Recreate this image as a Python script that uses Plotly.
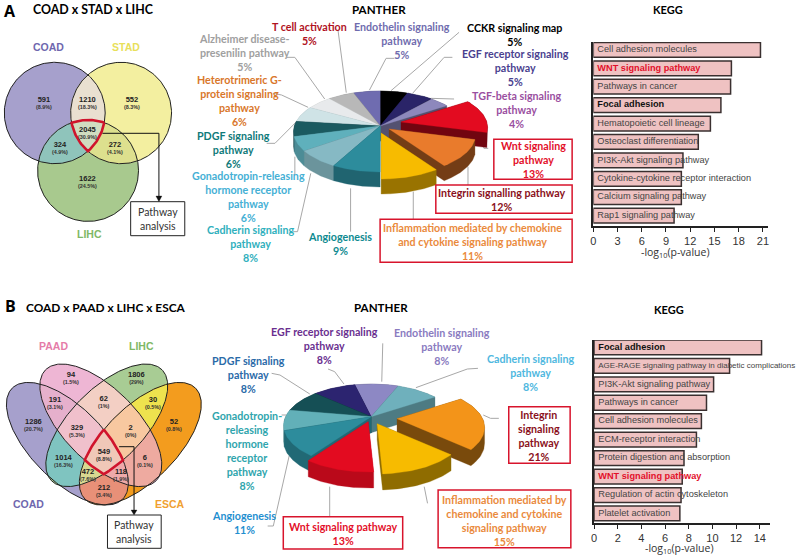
import numpy as np
import plotly.graph_objects as go

# ---------- DATA ----------
kegg_a_names = ["Cell adhesion molecules", "WNT signaling pathway", "Pathways in cancer", "Focal adhesion",
                "Hematopoietic cell lineage", "Osteoclast differentiation", "PI3K-Akt signaling pathway",
                "Cytokine-cytokine receptor interaction", "Calcium signaling pathway", "Rap1 signaling pathway"]
kegg_a_values = [20.7, 17.1, 17.0, 15.8, 14.5, 13.0, 11.1, 10.9, 10.9, 10.0]
kegg_b_names = ["Focal adhesion", "AGE-RAGE signaling pathway in diabetic complications", "PI3K-Akt signaling pathway",
                "Pathways in cancer", "Cell adhesion molecules", "ECM-receptor interaction",
                "Protein digestion and absorption", "WNT signaling pathway", "Regulation of actin cytoskeleton",
                "Platelet activation"]
kegg_b_values = [14.15, 11.45, 10.1, 9.5, 9.07, 8.65, 7.6, 7.45, 7.35, 7.25]

panther_a_names = ["CCKR", "EGF", "TGF-beta", "Wnt", "Integrin", "Inflammation", "Angiogenesis", "Cadherin",
                   "Gonadotropin", "PDGF", "Heterotrimeric", "Alzheimer", "T cell", "Endothelin"]
panther_a_values = [5, 5, 4, 13, 12, 11, 9, 8, 6, 6, 6, 5, 5, 5]
panther_a_colors = ["#000000", "#2a2468", "#8d88bc", "#e30b20", "#e97b2c", "#f7bb00", "#2d8c9c", "#86b9c4",
                    "#5fb0bc", "#1a5a60", "#cfe3e6", "#e8eaec", "#b8b8b8", "#6f6cb0"]
panther_a_wall = [0.6, 0.6, 0.6, 0.5, 0.5, 0.62, 0.72, 0.8, 0.8, 0.7, 0.8, 0.8, 0.7, 0.6]
panther_b_names = ["Cadherin", "Integrin", "Inflammation", "Wnt", "Angiogenesis", "Gonadotropin", "PDGF", "EGF", "Endothelin"]
panther_b_values = [8, 21, 15, 13, 11, 8, 8, 8, 8]
panther_b_colors = ["#6fb0bc", "#f39419", "#f7bb00", "#e30b20", "#2d8c9c", "#62b0b8", "#154f55", "#2c2470", "#8d88c4"]
panther_b_wall = [0.7, 0.5, 0.58, 0.82, 0.75, 0.75, 0.7, 0.6, 0.6]

venn_a_counts = ["591", "1210", "552", "2045", "324", "272", "1622"]
venn_a_pcts = ["(8.9%)", "(18.3%)", "(8.3%)", "(30.9%)", "(4.9%)", "(4.1%)", "(24.5%)"]
venn_b_counts = ["94", "1806", "191", "62", "30", "1286", "329", "2", "52", "1014", "549", "6", "472", "118", "212"]
venn_b_pcts = ["(1.5%)", "(29%)", "(3.1%)", "(1%)", "(0.5%)", "(20.7%)", "(5.3%)", "(0%)", "(0.8%)", "(16.3%)",
               "(8.8%)", "(0.1%)", "(7.6%)", "(1.9%)", "(3.4%)"]

# ---------- LAYOUT CONSTANTS ----------
W, H = 798, 556
fig = go.Figure()
ann, shp = [], []
HEAD = "Lato"
OV = dict(xaxis="x3", yaxis="y3")


def text(x, y, s, size=10.5, color="#000", family=HEAD, bold=False, anchor="center"):
    ann.append(dict(x=x, y=y, xref="x3", yref="y3", text=f"<b>{s}</b>" if bold else s, showarrow=False,
                    xanchor=anchor, yanchor="middle", align="center", font=dict(size=size, color=color, family=family)))


def count(x, y, c, p):
    s = f"<b><span style='font-size:7.5px;color:#222'>{c}</span><br>{p}</b>"
    ann.append(dict(x=x, y=y + 3.5, xref="x3", yref="y3", text=s, showarrow=False, xanchor="center", yanchor="middle",
                    align="center", font=dict(size=5.4, color="#333", family="Liberation Sans")))


def poly(pts, fill=None, line=None, width=1):
    pts = np.asarray(pts)
    x = list(pts[:, 0]) + [pts[0, 0]]
    y = list(pts[:, 1]) + [pts[0, 1]]
    fig.add_trace(go.Scatter(x=x, y=y, mode="lines", fill="toself" if fill else None, fillcolor=fill,
                             line=dict(color=line or fill, width=width if line else 0.3), hoverinfo="skip", **OV))


def polyline(pts, color="#a8a8a8", width=1):
    pts = np.asarray(pts)
    fig.add_trace(go.Scatter(x=pts[:, 0], y=pts[:, 1], mode="lines", line=dict(color=color, width=width),
                             hoverinfo="skip", **OV))


def box(x0, y0, x1, y1, color, width=1.5):
    shp.append(dict(type="rect", xref="x3", yref="y3", x0=x0, y0=y0, x1=x1, y1=y1, line=dict(color=color, width=width)))


def ellipse(cx, cy, a, b, deg=0, n=240):
    t = np.linspace(0, 2 * np.pi, n, endpoint=False)
    r = np.radians(deg)
    x, y = a * np.cos(t), b * np.sin(t)
    return np.column_stack([cx + x * np.cos(r) - y * np.sin(r), cy + x * np.sin(r) + y * np.cos(r)])


def clip(subject, clipper):
    area = np.sum(clipper[:, 0] * np.roll(clipper[:, 1], -1) - np.roll(clipper[:, 0], -1) * clipper[:, 1])
    sgn = 1 if area > 0 else -1
    out = list(subject)
    for i in range(len(clipper)):
        a, b = clipper[i], clipper[(i + 1) % len(clipper)]
        inside = lambda p: sgn * ((b[0] - a[0]) * (p[1] - a[1]) - (b[1] - a[1]) * (p[0] - a[0])) >= 0
        inp, out = out, []
        for j in range(len(inp)):
            p, q = inp[j], inp[(j + 1) % len(inp)]
            if inside(p) != inside(q):
                d = (q - p)
                e = b - a
                den = e[0] * d[1] - e[1] * d[0]
                s = (e[1] * (p[0] - a[0]) - e[0] * (p[1] - a[1])) / den
                if inside(p):
                    out.append(p)
                out.append(p + s * d)
            elif inside(p):
                out.append(p)
        if not out:
            return None
    return np.array(out)


def region(shapes, idx):
    pg = shapes[idx[0]]
    for i in idx[1:]:
        pg = clip(pg, shapes[i])
    return pg


def venn(shapes, paint, red_idx):
    for key in sorted(paint, key=len):
        pg = region(shapes, key)
        if pg is not None:
            poly(pg, fill=paint[key])
    for s in shapes:
        poly(s, line="#222222", width=1)
    poly(region(shapes, red_idx), line="#d0142c", width=2.6)


def shade(c, f):
    r, g, b = int(c[1:3], 16), int(c[3:5], 16), int(c[5:7], 16)
    return f"rgb({int(r * f)},{int(g * f)},{int(b * f)})"


def hull(points):
    pts = sorted(set(map(tuple, np.round(points, 4))))
    def half(seq):
        st = []
        for p in seq:
            while len(st) > 1 and (st[-1][0] - st[-2][0]) * (p[1] - st[-2][1]) - (st[-1][1] - st[-2][1]) * (p[0] - st[-2][0]) <= 0:
                st.pop()
            st.append(p)
        return st[:-1]
    return np.array(half(pts) + half(pts[::-1]))


def pie3d(values, colors, walls, cx, cy, ax, ay, rx, ry, depth, start, offsets):
    vals = np.array(values, float)
    edges = start + np.concatenate([[0], np.cumsum(vals)]) / vals.sum() * 360
    order = sorted(range(len(vals)), key=lambda i: -np.cos(np.radians((edges[i] + edges[i + 1]) / 2)))
    for i in order:
        t = np.radians(np.linspace(edges[i], edges[i + 1], 40))
        dx, dy = offsets.get(i, (0, 0))
        arc = np.column_stack([cx + rx * np.sin(t) + dx, cy - ry * np.cos(t) + dy])
        apex = np.array([ax + dx, ay + dy])
        pts = np.vstack([apex, arc])
        poly(hull(np.vstack([pts, pts + [0, depth]])), fill=shade(colors[i], walls[i]))
        poly(pts, fill=colors[i])


# ---------- VENN A ----------
va = [ellipse(52, 113, 50.7, 50.7), ellipse(118.7, 113, 50.7, 50.7), ellipse(85.5, 170.7, 50.7, 50.7)]
venn(va, {(0,): "#a6a0cc", (1,): "#f3efa0", (2,): "#a8c98e", (0, 1): "#e9e0d0", (0, 2): "#8fc4bb", (1, 2): "#dde08e",
          (0, 1, 2): "#d0dcc0"}, (0, 1, 2))
va_pos = [(41.3, 99.3), (85.3, 99.3), (129.3, 99.3), (85, 128.7), (57.7, 144), (112.7, 144), (85.3, 178)]
for (x, y), c, p in zip(va_pos, venn_a_counts, venn_a_pcts):
    count(x, y, c, p)
text(45.3, 47.3, "COAD", 10.5, "#6f67ae", "Liberation Sans", True)
text(124, 47.3, "STAD", 10.5, "#e8e05a", "Liberation Sans", True)
text(87.3, 234.3, "LIHC", 10.5, "#7fb866", "Liberation Sans", True)
polyline([(100, 133.3), (156.7, 133.3), (156.7, 197)], "#111", 1)
poly([(153.7, 196), (159.7, 196), (156.7, 201.7)], fill="#111")
box(128.3, 201.7, 182.7, 235.7, "#222", 1)
text(155.5, 218.7, "Pathway<br>analysis", 10.5, "#333")

# ---------- VENN B ----------
vb = [ellipse(64.7, 443.7, 78.5, 36.7, 45), ellipse(98.3, 425.3, 78.5, 36.7, 45),
      ellipse(104.3, 425.3, 78.5, 36.7, 135), ellipse(138, 443.7, 78.5, 36.7, 135)]
venn(vb, {(0,): "#a6a0cc", (1,): "#eeb6d4", (2,): "#a8cc94", (3,): "#f39c1e",
          (0, 1): "#e6b0cc", (1, 2): "#f3cfc4", (2, 3): "#eee24e", (0, 2): "#7fc4c0", (1, 3): "#eeaaa0", (0, 3): "#e89078",
          (0, 1, 2): "#f0c0cc", (1, 2, 3): "#f8c8a0", (0, 2, 3): "#d8d890", (0, 1, 3): "#eeaaaa",
          (0, 1, 2, 3): "#f0c8b8"}, (0, 1, 2, 3))
vb_zoom = [(205, 268), (403, 268), (157, 343), (304, 338), (451, 343), (92, 408), (224, 425), (385, 425), (517, 408),
           (182, 515), (304, 497), (427, 515), (256, 558), (355, 558), (304, 605)]
for (x, y), c, p in zip(vb_zoom, venn_b_counts, venn_b_pcts):
    count(x / 3, 285 + y / 3, c, p)
text(26, 503.7, "COAD", 10.5, "#6f67ae", "Liberation Sans", True)
text(50.7, 346.3, "PAAD", 10.5, "#e57ca8", "Liberation Sans", True)
text(139, 346.3, "LIHC", 10.5, "#7fb866", "Liberation Sans", True)
text(168, 503.7, "ESCA", 10.5, "#f0a030", "Liberation Sans", True)
polyline([(116.7, 446.7), (131.7, 446.7), (131.7, 511)], "#111", 1)
poly([(128.7, 510), (134.7, 510), (131.7, 515)], fill="#111")
box(105, 515, 159, 548.3, "#222", 1)
text(132, 532, "Pathway<br>analysis", 10.5, "#333")

# ---------- HEADINGS ----------
text(7.5, 10.5, "A", 16, "#000", "Open Sans", True)
text(7.5, 305.5, "B", 16, "#000", "Open Sans", True)
text(90.7, 9, "COAD x STAD x LIHC", 12.4, "#000", HEAD, True)
text(104, 307.7, "COAD x PAAD x LIHC x ESCA", 11.9, "#000", HEAD, True)
text(378, 9.3, "PANTHER", 11.6, "#000", HEAD, True)
text(380, 307.7, "PANTHER", 11.6, "#000", HEAD, True)
text(668, 9, "KEGG", 11, "#000", HEAD, True)
text(669, 309, "KEGG", 11, "#000", HEAD, True)

# ---------- PIE A ----------
LZ = lambda pts, oy=0: [(x / 3 + 190, y / 3 + oy) for x, y in pts]
for seg in [[(440, 90), (465, 278)], [(610, 175), (585, 175), (535, 270)], [(805, 97), (600, 272)],
            [(785, 172), (760, 172), (665, 280)], [(790, 297), (720, 295)], [(285, 172), (310, 172), (400, 297)],
            [(245, 280), (270, 285), (350, 322)], [(225, 430), (250, 430), (315, 365)], [(310, 470), (310, 525)],
            [(305, 695), (318, 695), (358, 520)], [(478, 695), (478, 565)], [(893, 445), (880, 445), (865, 370)],
            [(832, 555), (832, 500)], [(667, 658), (667, 575)]]:
    polyline(LZ(seg))
pie3d(panther_a_values, panther_a_colors, panther_a_wall, 379, 131.5, 379, 126, 87, 40.5, 15, 0,
      {3: (21, -4), 4: (9, 3), 5: (1, 7)})
labels_a = [
    (308, 33.7, "T cell activation<br>5%", "#b0121e"),
    (401, 40.8, "Endothelin signaling<br>pathway<br>5%", "#6f6cae"),
    (514, 34, "CCKR signaling map<br>5%", "#000000"),
    (515, 67.8, "EGF receptor signaling<br>pathway<br>5%", "#4a3f8f"),
    (515.7, 109.5, "TGF-beta signaling<br>pathway<br>4%", "#9a4f9f"),
    (243, 52.5, "Alzheimer disease-<br>presenilin pathway<br>5%", "#a0a0a0"),
    (237.7, 100.8, "Heterotrimeric G-<br>protein signaling<br>pathway<br>6%", "#d9772a"),
    (231.7, 149, "PDGF signaling<br>pathway<br>6%", "#0f7a7a"),
    (246.7, 196.5, "Gonadotropin-releasing<br>hormone receptor<br>pathway<br>6%", "#45b0d5"),
    (249, 243, "Cadherin signaling<br>pathway<br>8%", "#2fb0bd"),
    (339, 243.7, "Angiogenesis<br>9%", "#0e8a90"),
    (532.7, 159, "Wnt signaling<br>pathway<br>13%", "#e3102a"),
    (502, 199, "Integrin signalling pathway<br>12%", "#8a1020"),
    (472, 241, "Inflammation mediated by chemokine<br>and cytokine signaling pathway<br>11%", "#ea8a3c"),
]
for x, y, s, c in labels_a:
    text(x, y, s, 10.7, c, HEAD, True)
box(493.3, 139.3, 572, 179.3, "#d8142c")
box(435, 185, 572, 213.3, "#d8142c")
box(379, 219.3, 572, 262.3, "#d8142c")

# ---------- PIE B ----------
for seg in [[(410, 237), (430, 245), (458, 282)], [(575, 160), (572, 275)], [(862, 235), (830, 237), (675, 293)],
            [(240, 250), (265, 255), (355, 312)], [(270, 375), (285, 375), (278, 395)],
            [(228, 708), (245, 708), (293, 497)], [(415, 680), (415, 590)], [(710, 640), (700, 590)],
            [(925, 385), (900, 385), (878, 375)]]:
    polyline(LZ(seg, 290))
pie3d(panther_b_values, panther_b_colors, panther_b_wall, 370, 425.5, 370, 416.7, 88, 41.5, 16, 18,
      {1: (26, 2), 2: (6, 7), 3: (-3, 5)})
labels_b = [
    (323, 345, "EGF receptor signaling<br>pathway<br>8%", "#6a2f8f"),
    (441.7, 346, "Endothelin signaling<br>pathway<br>8%", "#8a7bbf"),
    (530.7, 372.8, "Cadherin signaling<br>pathway<br>8%", "#4fb8e0"),
    (246.7, 374.7, "PDGF signaling<br>pathway<br>8%", "#2a6aa8"),
    (245.7, 450, "Gonadotropin-<br>releasing<br>hormone<br>receptor<br>pathway<br>8%", "#2fa5ad"),
    (242.7, 522.5, "Angiogenesis<br>11%", "#1f8fd0"),
    (342.3, 533.7, "Wnt signaling pathway<br>13%", "#e3102a"),
    (504.3, 520.5, "Inflammation mediated by<br>chemokine and cytokine<br>signaling pathway<br>15%", "#ea8a3c"),
    (538.3, 435.5, "Integrin<br>signaling<br>pathway<br>21%", "#8a1020"),
]
for x, y, s, c in labels_b:
    text(x, y, s, 10.7, c, HEAD, True)
box(281.7, 516.7, 401.7, 549, "#d8142c")
box(437.3, 490, 570.7, 547.7, "#d8142c")
box(508.3, 406.7, 570, 463.3, "#d8142c")


# ---------- KEGG BARS ----------
def style(name):
    if name.startswith("WNT"):
        return f"<b>{name}</b>", "#e3102a"
    if name == "Focal adhesion":
        return f"<b>{name}</b>", "#111111"
    return name, "#444444"


def bars(names, values, xa, ya, tx, sizes):
    fig.add_trace(go.Bar(x=values, y=names, orientation="h", width=0.8, marker=dict(color="#efc2c2",
                         line=dict(color="#3a3030", width=1.5)), hoverinfo="skip", xaxis=xa, yaxis=ya))
    st = [style(n) for n in names]
    fig.add_trace(go.Scatter(x=[tx] * len(names), y=names, mode="text", text=[s[0] for s in st],
                             textposition="middle right", cliponaxis=False, hoverinfo="skip",
                             textfont=dict(size=sizes, color=[s[1] for s in st], family="Liberation Sans"), xaxis=xa, yaxis=ya))


bars(kegg_a_names, kegg_a_values, "x", "y", 0.5, [9.2] * 10)
bars(kegg_b_names, kegg_b_values, "x2", "y2", 0.36, [9.2, 8.0] + [9.2] * 8)
text(675.7, 252, "-log<sub>10</sub>(p-value)", 10.5, "#333", "Open Sans")
text(680, 548.5, "-log<sub>10</sub>(p-value)", 10.5, "#333", "Open Sans")


def xax(x0, x1, rng, tick, anchor):
    return dict(domain=[x0 / W, x1 / W], range=rng, dtick=tick, tick0=0, ticks="outside", ticklen=4, tickcolor="#222",
                showgrid=False, zeroline=False, showline=True, linecolor="#222", linewidth=1.6, anchor=anchor,
                tickfont=dict(size=11, color="#333", family="Liberation Sans"))


def yax(y0, y1, rng, names, anchor):
    return dict(domain=[1 - y1 / H, 1 - y0 / H], range=rng, type="category", categoryorder="array", categoryarray=names,
                showticklabels=False, ticks="", showgrid=False, zeroline=False, showline=True, linecolor="#222",
                linewidth=1.6, anchor=anchor)


fig.update_layout(
    width=W, height=H, autosize=False, margin=dict(l=0, r=0, t=0, b=0), showlegend=False,
    paper_bgcolor="white", plot_bgcolor="rgba(0,0,0,0)",
    xaxis=xax(593.3, 769, [0, 21.65], 3, "y"),
    yaxis=yax(42, 225.7, [9.55, -0.43], kegg_a_names, "x"),
    xaxis2=xax(594, 770.7, [0, 14.85], 2, "y2"),
    yaxis2=yax(340, 522.7, [9.5, -0.4], kegg_b_names, "x2"),
    xaxis3=dict(domain=[0, 1], range=[0, W], visible=False, fixedrange=True),
    yaxis3=dict(domain=[0, 1], range=[H, 0], visible=False, fixedrange=True),
    annotations=ann, shapes=shp,
)
fig.write_html("out.html", config=dict(displayModeBar=False),
               post_script="document.body.style.margin='0';document.body.style.overflow='hidden';")
